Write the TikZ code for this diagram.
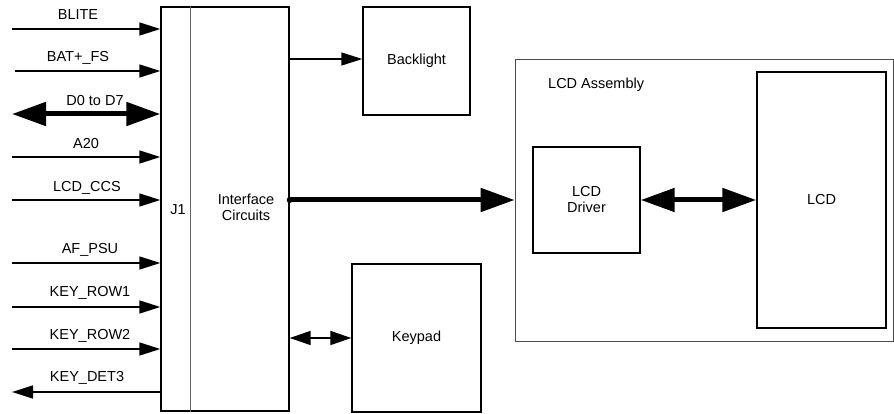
\documentclass[tikz,border=0pt]{standalone}
\usepackage{fontspec}
\setmainfont{Liberation Sans}
\usetikzlibrary{arrows.meta}
\begin{document}
\begin{tikzpicture}[x=1pt,y=-1pt,
  every node/.style={font=\fontsize{14.5}{16}\selectfont},
  box/.style={draw, line width=1.4pt, inner sep=0pt, align=center},
  frame/.style={draw=black!70, line width=0.8pt, inner sep=0pt},
  sig/.style={line width=1.5pt, -{Triangle[length=21pt,width=13pt]}},
  sigb/.style={line width=1.5pt, {Triangle[length=21pt,width=14pt]}-{Triangle[length=21pt,width=14pt]}},
  bus/.style={line width=5pt, -{Triangle[length=34pt,width=23pt]}},
  busb/.style={line width=5pt, {Triangle[length=34pt,width=23pt]}-{Triangle[length=34pt,width=23pt]}},
  lbl/.style={inner sep=0pt}]
\useasboundingbox (0,0) rectangle (894,414);
% blocks
\node[box, minimum width=128pt, minimum height=404pt] (main) at (225,209) {};
\draw[black!60, line width=0.8pt] ([xshift=30pt]main.north west) -- ([xshift=30pt]main.south west);
\node[lbl] (j1) at (178,210) {J1};
\node[lbl, align=center] (ifc) at (246,207) {Interface\\Circuits};
\node[box, minimum width=107pt, minimum height=108pt] (bl) at (416.5,61) {Backlight};
\node[box, minimum width=129pt, minimum height=148pt] (kp) at (416.5,338) {Keypad};
\node[frame, minimum width=378pt, minimum height=282pt] (asm) at (704,200) {};
\node[lbl, anchor=west] (asmlbl) at (548,85) {LCD Assembly};
\node[box, minimum width=107pt, minimum height=106pt] (drv) at (586.5,200) {LCD\\Driver};
\node[box, minimum width=129pt, minimum height=256pt] (lcd) at (821.5,200) {LCD};
% free ends
\coordinate (sBLITE) at (12,29);
\coordinate (sBAT) at (15,71);
\coordinate (sD) at (12,114);
\coordinate (sA20) at (12,157);
\coordinate (sCCS) at (12,200);
\coordinate (sAF) at (12,263);
\coordinate (sR1) at (12,307);
\coordinate (sR2) at (12,349);
\coordinate (sDET) at (12,392);
% input signals
\draw[sig] (sBLITE) -- (sBLITE -| main.west);
\draw[sig] (sBAT) -- (sBAT -| main.west);
\draw[busb] (sD) -- (sD -| main.west);
\draw[sig] (sA20) -- (sA20 -| main.west);
\draw[sig] (sCCS) -- (sCCS -| main.west);
\draw[sig] (sAF) -- (sAF -| main.west);
\draw[sig] (sR1) -- (sR1 -| main.west);
\draw[sig] (sR2) -- (sR2 -| main.west);
\draw[sig] (sDET -| main.west) -- (sDET);
% signal labels
\node[lbl] (lBLITE) at (78,15) {BLITE};
\node[lbl] (lBAT) at (78,58) {BAT+\_FS};
\node[lbl] (lD) at (95,101) {D0 to D7};
\node[lbl] (lA20) at (86,144) {A20};
\node[lbl] (lCCS) at (87,188) {LCD\_CCS};
\node[lbl] (lAF) at (90,250) {AF\_PSU};
\node[lbl] (lR1) at (90,293) {KEY\_ROW1};
\node[lbl] (lR2) at (90,336) {KEY\_ROW2};
\node[lbl] (lDET) at (87,378) {KEY\_DET3};
% internal connectors
\draw[sig] (main.east |- 0,59) -- (bl.west |- 0,59);
\draw[sigb] (main.east |- kp.west) -- (kp.west);
\fill (main.east |- asm.west) circle (3pt);
\draw[bus] (main.east |- asm.west) -- (asm.west);
\draw[busb] (drv.east) -- (lcd.west);
\end{tikzpicture}
\end{document}
